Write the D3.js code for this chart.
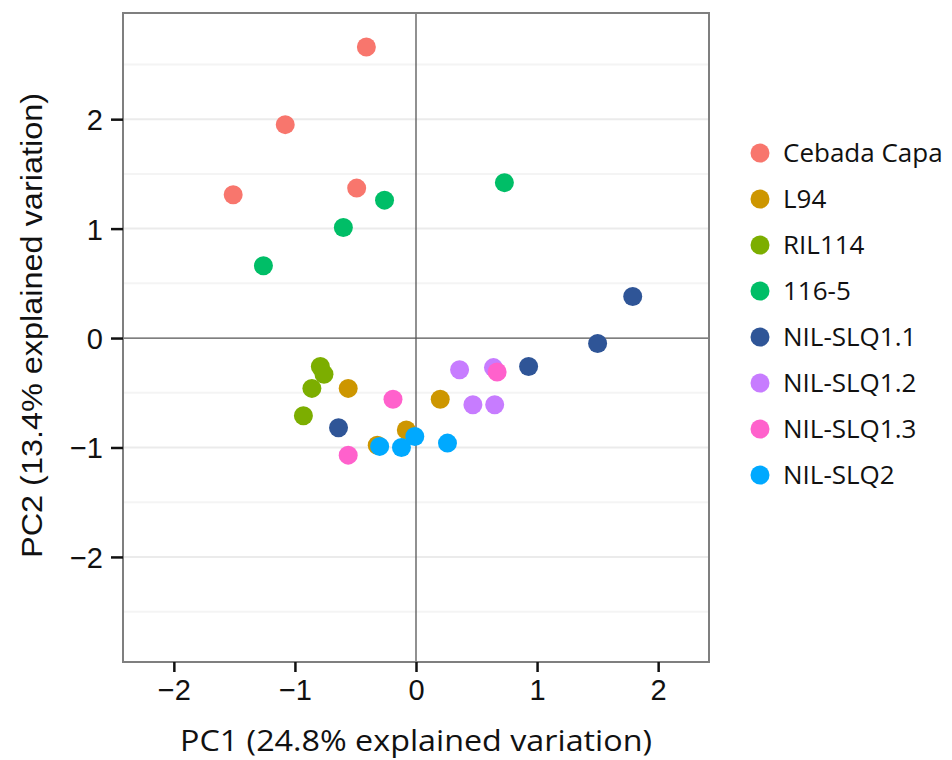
<!DOCTYPE html>
<html>
<head>
<meta charset="utf-8">
<script src="https://cdn.jsdelivr.net/npm/d3@7"></script>
<style>
  body { margin: 0; background: #fff; }
  svg { display: block; }
</style>
</head>
<body>
<svg id="chart" width="952" height="760"></svg>
<script>
// groups, in legend order
var groups = ['Cebada Capa', 'L94', 'RIL114', '116-5', 'NIL-SLQ1.1', 'NIL-SLQ1.2', 'NIL-SLQ1.3', 'NIL-SLQ2'];
var groupColors = ['#F8766D', '#CD9600', '#7CAE00', '#00BE67', '#2F5597', '#C77CFF', '#FF61CC', '#00A9FF'];

// PC scores (one array per group)
var cebadaPC1 = [-0.41, -1.08, -1.51, -0.49];
var cebadaPC2 = [2.66, 1.95, 1.31, 1.37];
var l94PC1 = [-0.56, 0.20, -0.08, -0.32];
var l94PC2 = [-0.46, -0.56, -0.84, -0.98];
var ril114PC1 = [-0.79, -0.76, -0.86, -0.93];
var ril114PC2 = [-0.26, -0.33, -0.46, -0.71];
var g1165PC1 = [-1.26, -0.60, -0.26, 0.73];
var g1165PC2 = [0.66, 1.01, 1.26, 1.42];
var slq11PC1 = [1.79, 1.50, 0.93, -0.64];
var slq11PC2 = [0.38, -0.05, -0.26, -0.82];
var slq12PC1 = [0.36, 0.64, 0.47, 0.65];
var slq12PC2 = [-0.29, -0.27, -0.61, -0.61];
var slq13PC1 = [0.67, -0.19, -0.56];
var slq13PC2 = [-0.31, -0.56, -1.07];
var slq2PC1 = [-0.30, -0.12, -0.01, 0.26];
var slq2PC2 = [-0.99, -1.00, -0.90, -0.96];

var xTicks = [-2, -1, 0, 1, 2];
var yTicks = [-2, -1, 0, 1, 2];
var xDomain = [-2.42, 2.42];
var yDomain = [-2.96, 2.97];

var seriesPC1 = [cebadaPC1, l94PC1, ril114PC1, g1165PC1, slq11PC1, slq12PC1, slq13PC1, slq2PC1];
var seriesPC2 = [cebadaPC2, l94PC2, ril114PC2, g1165PC2, slq11PC2, slq12PC2, slq13PC2, slq2PC2];

var points = [];
groups.forEach(function (g, gi) {
  seriesPC1[gi].forEach(function (v, i) {
    points.push({ group: g, pc1: v, pc2: seriesPC2[gi][i] });
  });
});

var margin = { left: 123, top: 13, right: 243, bottom: 98 };
var width = 952 - margin.left - margin.right;
var height = 760 - margin.top - margin.bottom;

var svg = d3.select('#chart');
var g = svg.append('g').attr('transform', 'translate(' + margin.left + ',' + margin.top + ')');

var x = d3.scaleLinear().domain(xDomain).range([0, width]);
var y = d3.scaleLinear().domain(yDomain).range([height, 0]);
var color = d3.scaleOrdinal().domain(groups).range(groupColors);

// minor grid (half steps)
var yMinor = d3.range(-2.5, 3, 1);
g.selectAll('line.minor')
  .data(yMinor)
  .enter().append('line')
  .attr('class', 'minor')
  .attr('x1', 0).attr('x2', width)
  .attr('y1', function (d) { return y(d); })
  .attr('y2', function (d) { return y(d); })
  .attr('stroke', '#f4f4f4').attr('stroke-width', 2);

// major grid
g.selectAll('line.major')
  .data(yTicks.filter(function (d) { return d !== 0; }))
  .enter().append('line')
  .attr('class', 'major')
  .attr('x1', 0).attr('x2', width)
  .attr('y1', function (d) { return y(d); })
  .attr('y2', function (d) { return y(d); })
  .attr('stroke', '#ebebeb').attr('stroke-width', 2);

// zero lines
g.append('line')
  .attr('x1', 0).attr('x2', width)
  .attr('y1', y(0)).attr('y2', y(0))
  .attr('stroke', '#555').attr('stroke-width', 1.3);
g.append('line')
  .attr('x1', x(0)).attr('x2', x(0))
  .attr('y1', 0).attr('y2', height)
  .attr('stroke', '#555').attr('stroke-width', 1.3);

// points
g.selectAll('circle.pt')
  .data(points)
  .enter().append('circle')
  .attr('class', 'pt')
  .attr('cx', function (d) { return x(d.pc1); })
  .attr('cy', function (d) { return y(d.pc2); })
  .attr('r', 9.5)
  .attr('fill', function (d) { return color(d.group); });

// panel border
g.append('rect')
  .attr('width', width).attr('height', height)
  .attr('fill', 'none').attr('stroke', '#7f7f7f').attr('stroke-width', 2);

// axes
var xAxis = g.append('g')
  .attr('transform', 'translate(0,' + height + ')')
  .call(d3.axisBottom(x).tickValues(xTicks).tickSize(10).tickPadding(7)
    .tickFormat(function (d) { return d < 0 ? '\u2212' + Math.abs(d) : d; }));
var yAxis = g.append('g')
  .call(d3.axisLeft(y).tickValues(yTicks).tickSize(12).tickPadding(8)
    .tickFormat(function (d) { return d < 0 ? '\u2212' + Math.abs(d) : d; }));

[xAxis, yAxis].forEach(function (a) {
  a.select('.domain').remove();
  a.selectAll('.tick line').attr('stroke', '#111').attr('stroke-width', 2.5);
  a.selectAll('.tick text')
    .attr('fill', '#111')
    .style('font-family', '"Liberation Sans", Arial, sans-serif')
    .style('font-size', '29px');
});
xAxis.selectAll('.tick line').attr('y1', 0);
yAxis.selectAll('.tick text').attr('dy', '0.36em');

// axis titles
svg.append('text')
  .attr('x', 180)
  .attr('y', 751)
  .attr('textLength', 472)
  .attr('lengthAdjust', 'spacingAndGlyphs')
  .style('font-family', '"Open Sans", sans-serif')
  .style('font-size', '29px')
  .attr('fill', '#111')
  .text('PC1 (24.8% explained variation)');

svg.append('text')
  .attr('transform', 'translate(42,558) rotate(-90)')
  .attr('textLength', 465)
  .attr('lengthAdjust', 'spacingAndGlyphs')
  .style('font-family', '"Liberation Sans", Arial, sans-serif')
  .style('font-size', '29px')
  .attr('fill', '#111')
  .text('PC2 (13.4% explained variation)');

// legend
var legend = svg.append('g').attr('transform', 'translate(760,153)');
var items = legend.selectAll('g.item')
  .data(groups)
  .enter().append('g')
  .attr('class', 'item')
  .attr('transform', function (d, i) { return 'translate(0,' + (i * 46) + ')'; });
items.append('circle')
  .attr('r', 9.5)
  .attr('fill', function (d) { return color(d); });
items.append('text')
  .attr('x', 23)
  .attr('dy', '0.35em')
  .style('font-family', '"Open Sans", sans-serif')
  .style('font-size', '26px')
  .attr('fill', '#111')
  .text(function (d) { return d; });
</script>
</body>
</html>
